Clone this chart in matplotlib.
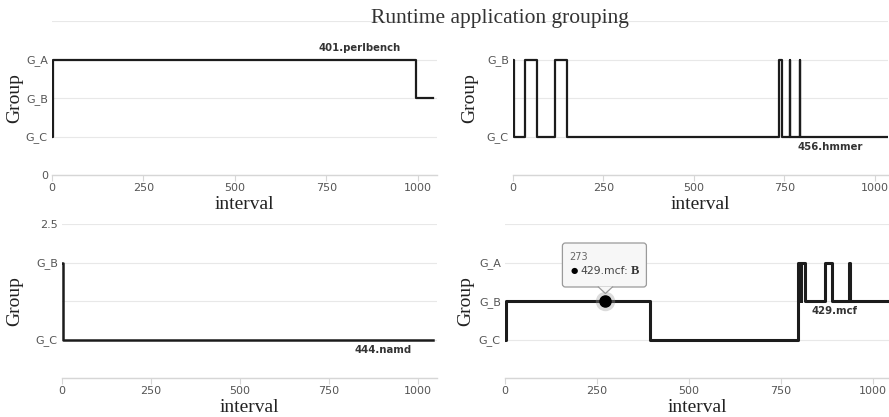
import matplotlib.pyplot as plt
import matplotlib.transforms as mtransforms
from matplotlib.patches import FancyBboxPatch, Polygon

# change points of each series (interval, group level: 1=G_C, 2=G_B, 3=G_A)
perl_x = [0, 2, 995, 1040]
perl_y = [1, 3, 2, 2]
hmmer_x = [0, 4, 33, 66, 116, 149, 735, 743, 764, 766, 792, 794, 1034]
hmmer_y = [2, 1, 2, 1, 2, 1, 2, 1, 2, 1, 2, 1, 1]
namd_x = [0, 2, 1042]
namd_y = [2, 1, 1]
mcf_x = [0, 2, 394, 796, 804, 806, 816, 870, 888, 936, 939, 1042]
mcf_y = [1, 2, 1, 3, 2, 3, 2, 3, 2, 3, 2, 2]

x_ticks = [0, 250, 500, 750, 1000]
hover_x, hover_y = 273, 2

serif = 'Liberation Serif'
sans = 'DejaVu Sans'
line_c = '#1c1c1c'

fig = plt.figure(figsize=(8.89, 4.17), dpi=100)

def px_box(l, r, t, b):
    W, H = 889, 417
    return [l / W, 1 - b / H, (r - l) / W, (b - t) / H]

panels = [
    # name, x, y, box, ylim, yticks, ylabels, xmax, label pos, lw, ylabel x
    ('401.perlbench', perl_x, perl_y, px_box(52, 437, 21, 175), (0, 4),
     [0, 1, 2, 3, 4], ['0', 'G_C', 'G_B', 'G_A', ''], 1052, (841, 3.31), 1.6, 15),
    ('456.hmmer', hmmer_x, hmmer_y, px_box(513, 888, 21, 175), (0.5, 2.5),
     [0.5, 1, 1.5, 2, 2.5], ['', 'G_C', '', 'G_B', ''], 1036, (876, 0.87), 1.6, 470),
    ('444.namd', namd_x, namd_y, px_box(62, 437, 224, 378), (0.5, 2.5),
     [0.5, 1, 1.5, 2, 2.5], ['', 'G_C', '', 'G_B', '2.5'], 1053, (902, 0.87), 1.8, 15),
    ('429.mcf', mcf_x, mcf_y, px_box(505, 889, 224, 378), (0, 4),
     [0, 1, 2, 3, 4], ['', 'G_C', 'G_B', 'G_A', ''], 1044, (897, 1.74), 2.2, 466),
]

axes = []
for name, xs, ys, box, ylim, yt, yl, xmax, lab, lw, gx in panels:
    ax = fig.add_axes(box)
    ax.step(xs, ys, where='post', color=line_c, lw=lw, zorder=3)
    ax.set_xlim(0, xmax)
    ax.set_ylim(*ylim)
    ax.set_yticks(yt)
    ax.set_yticklabels(yl)
    ax.set_xticks(x_ticks)
    ax.grid(axis='y', color='#e8e8e8', lw=0.8)
    ax.set_axisbelow(True)
    for s in ['top', 'right', 'left']:
        ax.spines[s].set_visible(False)
    ax.spines['bottom'].set_color('#d6d6d6')
    ax.spines['bottom'].set_linewidth(1.0)
    ax.tick_params(axis='y', length=0, pad=3, labelsize=8, labelcolor='#555555')
    ax.tick_params(axis='x', length=4, width=0.8, color='#d6d6d6', pad=2,
                   labelsize=8, labelcolor='#555555')
    for t in ax.get_xticklabels() + ax.get_yticklabels():
        t.set_fontfamily(sans)
    ax.set_xlabel('interval', fontfamily=serif, fontsize=14, color='#222222', labelpad=2)
    y0, y1 = box[1], box[1] + box[3]
    fig.text(gx / 889, (y0 + y1) / 2, 'Group', rotation=90, ha='center', va='center',
             fontfamily=serif, fontsize=14, color='#222222')
    ax.text(lab[0], lab[1], name, ha='center', va='center', fontfamily=sans,
            fontweight='bold', fontsize=7.3, color='#333333', zorder=4)
    axes.append(ax)

fig.text(500 / 889, 1 - 19 / 417, 'Runtime application grouping', ha='center', va='center',
         fontfamily=serif, fontsize=15.5, color='#333333')

# hover tooltip on 429.mcf
ax = axes[3]
ax.plot([hover_x], [hover_y], 'o', ms=14, color='#999999', alpha=0.35, zorder=5, mec='none')
ax.plot([hover_x], [hover_y], 'o', ms=8, color='black', zorder=6)
tr = fig.dpi_scale_trans + mtransforms.ScaledTranslation(hover_x, hover_y, ax.transData)
box = FancyBboxPatch((-0.43, 0.14), 0.84, 0.44, boxstyle='round,pad=0,rounding_size=0.03',
                     transform=tr, facecolor='#f7f7f7', edgecolor='#9a9a9a', lw=0.9,
                     zorder=7, clip_on=False)
ax.add_patch(box)
tri = Polygon([(-0.075, 0.145), (0, 0.075), (0.075, 0.145)], closed=False, transform=tr,
              facecolor='#f7f7f7', edgecolor='#9a9a9a', lw=0.9, zorder=8, clip_on=False)
ax.add_patch(tri)
ax.text(-0.36, 0.445, str(hover_x), transform=tr, fontfamily=sans, fontsize=7,
        color='#666666', va='center', ha='left', zorder=9)
ax.text(-0.35, 0.30, '\u25cf', transform=tr, fontfamily=sans, fontsize=6,
        color='black', va='center', ha='left', zorder=9)
ax.text(-0.25, 0.30, '429.mcf:', transform=tr, fontfamily=sans, fontsize=7.8,
        color='#444444', va='center', ha='left', zorder=9)
ax.text(0.25, 0.30, 'B', transform=tr, fontfamily=serif, fontweight='bold', fontsize=9,
        color='#333333', va='center', ha='left', zorder=9)

fig.savefig('out.png', dpi=100, facecolor='white')
